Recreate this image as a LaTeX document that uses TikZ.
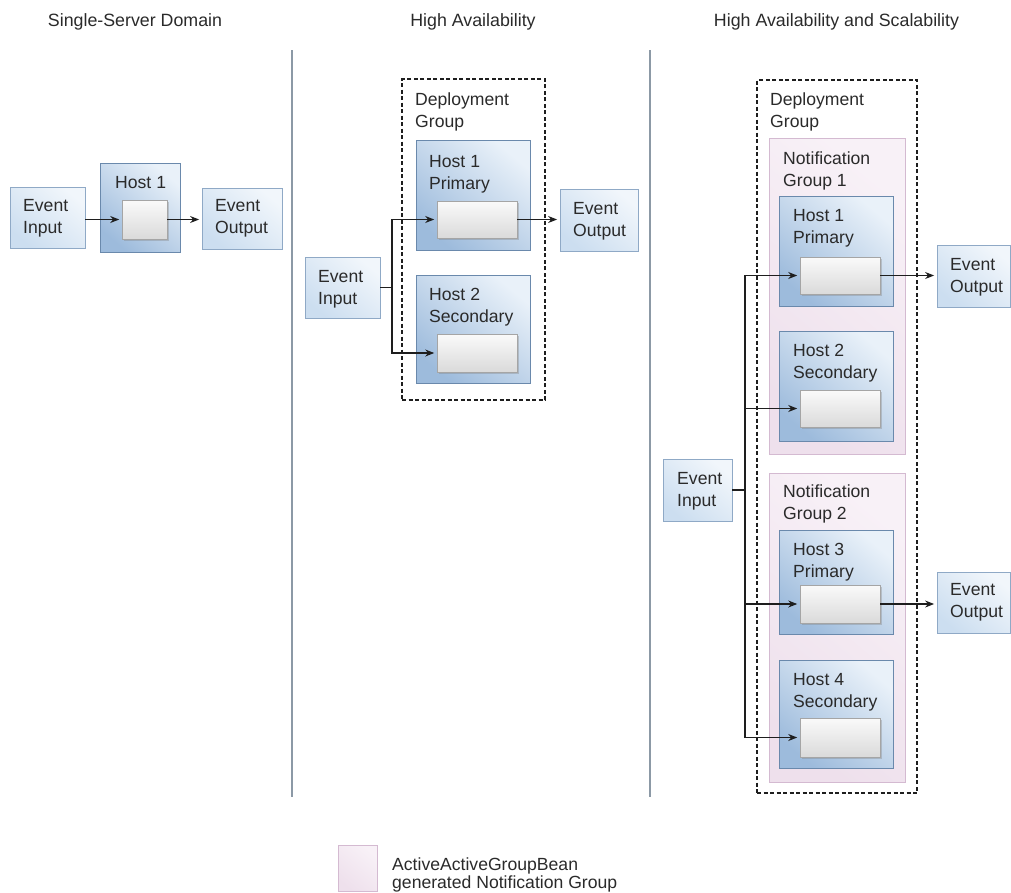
\documentclass[tikz,border=0pt]{standalone}
\usepackage{fontspec}
\setmainfont{Liberation Sans}
\usetikzlibrary{arrows.meta,fit,shadows}
\newcommand\boxfont{\fontsize{17.6}{22}\selectfont}
\newcommand\titlefont{\fontsize{17.8}{20}\selectfont}
\newcommand\legfont{\fontsize{17.6}{17.5}\selectfont}
\definecolor{hostdark}{HTML}{9DBBDC}
\definecolor{hostlight}{HTML}{E9F1F9}
\definecolor{hostedge}{HTML}{6A89AC}
\definecolor{evdark}{HTML}{CCDEF0}
\definecolor{evlight}{HTML}{F1F6FB}
\definecolor{evedge}{HTML}{8FA9C6}
\definecolor{slottop}{HTML}{FAFAFA}
\definecolor{slotbot}{HTML}{DADADA}
\definecolor{slotedge}{HTML}{A5A5A5}
\definecolor{ngfill}{HTML}{EEE0EC}
\definecolor{nglight}{HTML}{F8F1F7}
\definecolor{ngedge}{HTML}{D4BAD1}
\definecolor{sepcol}{HTML}{8C99A6}
\definecolor{ink}{HTML}{1E1E1E}
\definecolor{txt}{HTML}{2A2A2A}
\begin{document}
\begin{tikzpicture}[x=1pt,y=-1pt,
  hostbox/.style={draw=hostedge, line width=0.8pt, top color=hostlight, bottom color=hostdark, shading angle=-40, inner sep=0pt,
    drop shadow={shadow xshift=1.2pt, shadow yshift=-1.2pt, opacity=0.25}},
  evbox/.style={draw=evedge, line width=0.8pt, top color=evlight, bottom color=evdark, shading angle=-40, inner sep=0pt,
    drop shadow={shadow xshift=1.2pt, shadow yshift=-1.2pt, opacity=0.2}},
  slotbox/.style={draw=slotedge, line width=0.6pt, top color=slottop, bottom color=slotbot, inner sep=0pt,
    drop shadow={shadow xshift=1.5pt, shadow yshift=-1.5pt, opacity=0.35}},
  ngroup/.style={draw=ngedge, line width=0.8pt, top color=nglight, bottom color=ngfill, shading angle=-40, inner sep=0pt},
  dgroup/.style={draw=ink, line width=1.3pt, dash pattern=on 4pt off 2.5pt, inner sep=0pt},
  lbl/.style={anchor=north west, inner sep=0pt, align=left, font=\boxfont, text=txt},
  ttl/.style={anchor=north, inner sep=0pt, font=\titlefont, text=txt},
  wire/.style={draw=ink, line width=1.1pt},
  arr/.style={draw=ink, line width=1.1pt, -{Stealth[length=9pt,width=7pt]}, shorten >=2.5pt},
  sepline/.style={draw=sepcol, line width=1.5pt}
]
\useasboundingbox (0,0) rectangle (1011,892);

% titles
\node[ttl] (t1) at (135,13) {Single-Server Domain};
\node[ttl] (t2) at (473,13) {High Availability};
\node[ttl] (t3) at (836.5,13) {High Availability and Scalability};

% separators
\coordinate (sa1) at (292,50); \coordinate (sa2) at (292,797);
\coordinate (sb1) at (650,50); \coordinate (sb2) at (650,797);
\draw[sepline] (sa1) -- (sa2);
\draw[sepline] (sb1) -- (sb2);

% ---------- section 1
\node[evbox, fit={(10,187) (85,248)}] (ein1) {};
\node[lbl] (ein1t) at (23,199) {Event\\Input};
\node[hostbox, fit={(100,163) (180,252)}] (h1) {};
\node[lbl] (h1t) at (115,176) {Host 1};
\node[slotbox, fit={(122,200) (167,239)}] (s1) {};
\node[evbox, fit={(202,188) (282,249)}] (eout1) {};
\node[lbl] (eout1t) at (215,199) {Event\\Output};
\draw[arr] (ein1.east |- s1.west) -- (s1.west);
\draw[arr] (s1.east) -- (eout1.west |- s1.east);

% ---------- section 2
\node[dgroup, fit={(402,79) (545,400)}] (dg2) {};
\node[lbl] (dg2t) at (415,93) {Deployment\\Group};
\node[hostbox, fit={(416,140) (530,250)}] (h2a) {};
\node[lbl] (h2at) at (429,155) {Host 1\\Primary};
\node[slotbox, fit={(437,201) (517,238)}] (s2a) {};
\node[hostbox, fit={(416,275) (530,383)}] (h2b) {};
\node[lbl] (h2bt) at (429,288) {Host 2\\Secondary};
\node[slotbox, fit={(437,334) (517,372)}] (s2b) {};
\node[evbox, fit={(560,189) (638,251)}] (eout2) {};
\node[lbl] (eout2t) at (573,202) {Event\\Output};
\node[evbox, fit={(305,257) (380,318)}] (ein2) {};
\node[lbl] (ein2t) at (318,270) {Event\\Input};
\coordinate (br2) at (392,287.5);
\draw[wire] (ein2.east) -- (br2);
\draw[arr] (br2) |- (s2a.west);
\draw[arr] (br2) |- (s2b.west);
\draw[arr] (s2a.east) -- (eout2.west |- s2a.east);

% ---------- section 3
\node[dgroup, fit={(757,80) (917,793)}] (dg3) {};
\node[lbl] (dg3t) at (770,93) {Deployment\\Group};
\node[ngroup, fit={(769,138) (905,454)}] (ng1) {};
\node[lbl] (ng1t) at (783,152) {Notification\\Group 1};
\node[ngroup, fit={(769,473) (905,782)}] (ng2) {};
\node[lbl] (ng2t) at (783,485) {Notification\\Group 2};

\node[hostbox, fit={(779,196) (893,306)}] (h3a) {};
\node[lbl] (h3at) at (793,209) {Host 1\\Primary};
\node[slotbox, fit={(800,257) (880,294)}] (s3a) {};
\node[hostbox, fit={(779,331) (893,441)}] (h3b) {};
\node[lbl] (h3bt) at (793,344) {Host 2\\Secondary};
\node[slotbox, fit={(800,390) (880,427)}] (s3b) {};
\node[hostbox, fit={(779,530) (893,634)}] (h3c) {};
\node[lbl] (h3ct) at (793,543) {Host 3\\Primary};
\node[slotbox, fit={(800,585) (880,623)}] (s3c) {};
\node[hostbox, fit={(779,660) (893,768)}] (h3d) {};
\node[lbl] (h3dt) at (793,673) {Host 4\\Secondary};
\node[slotbox, fit={(800,718) (880,757)}] (s3d) {};

\node[evbox, fit={(937,245) (1010,307)}] (eout3a) {};
\node[lbl] (eout3at) at (950,258) {Event\\Output};
\node[evbox, fit={(937,572) (1010,633)}] (eout3b) {};
\node[lbl] (eout3bt) at (950,583) {Event\\Output};
\node[evbox, fit={(663,459) (732,521)}] (ein3) {};
\node[lbl] (ein3t) at (677,472) {Event\\Input};

\coordinate (br3) at (745,490);
\draw[wire] (ein3.east) -- (br3);
\draw[arr] (br3) |- (s3a.west);
\draw[arr] (br3) |- (s3b.west);
\draw[arr] (br3) |- (s3c.west);
\draw[arr] (br3) |- (s3d.west);
\draw[arr] (s3a.east) -- (eout3a.west |- s3a.east);
\draw[arr] (s3c.east) -- (eout3b.west |- s3c.east);

% ---------- legend
\node[ngroup, fit={(338,845) (377,891)}] (leg) {};
\node[lbl, font=\legfont] (legt) at (392,858) {ActiveActiveGroupBean\\generated Notification Group};
\end{tikzpicture}
\end{document}
